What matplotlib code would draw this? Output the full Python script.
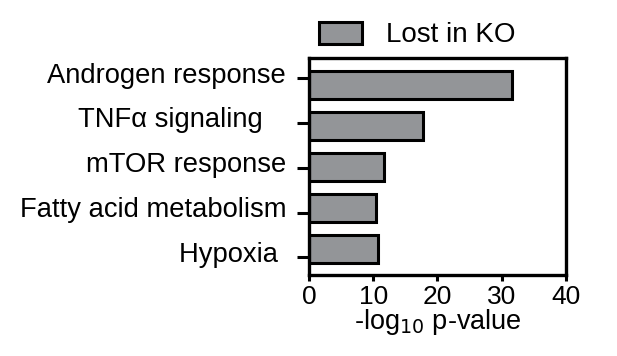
import matplotlib
matplotlib.use('Agg')
import matplotlib.pyplot as plt
import matplotlib.transforms as mtransforms
import numpy as np

# pathway enrichment, genes lost in KO
pathways = ['Androgen response', 'TNFα signaling   ', 'mTOR response',
            'Fatty acid metabolism', 'Hypoxia ']
neg_log_p = [31.6, 17.8, 11.6, 10.5, 10.7]
x_ticks = [0, 10, 20, 30, 40]
series_name = 'Lost in KO'

plt.rcParams['font.family'] = ['Liberation Sans', 'DejaVu Sans']
plt.rcParams['mathtext.fontset'] = 'dejavusans'

fig = plt.figure(figsize=(6.17, 3.56), dpi=100)
ax = fig.add_axes([0.5008, 0.2275, 0.4165, 0.6095])

ypos = np.arange(len(pathways))[::-1]
ax.barh(ypos, neg_log_p, height=0.68, color='#939598', edgecolor='black',
        linewidth=2.2, label=series_name)

ax.set_xlim(0, 40)
ax.set_ylim(-0.63, 4.66)
ax.set_xticks(x_ticks)
# prism spreads the category ticks a bit wider than the bars
ax.set_yticks(np.linspace(ypos[0] + 0.17, ypos[-1] - 0.2, len(pathways)))
ax.set_yticklabels(pathways)
ax.tick_params(axis='x', labelsize=19, width=2.2, length=4, pad=3)
ax.tick_params(axis='y', labelsize=19.7, width=2.2, length=8.5, pad=8)
# labels sit slightly above their ticks
shift = mtransforms.ScaledTranslation(0, 4 / 72, fig.dpi_scale_trans)
for lab in ax.get_yticklabels():
    lab.set_transform(lab.get_transform() + shift)
for sp in ax.spines.values():
    sp.set_linewidth(2.4)

ax.set_xlabel('-log$_{10}$ p-value', fontsize=19.5, labelpad=-1.5)

ax.legend(loc='center left', bbox_to_anchor=(0.517, 0.902), bbox_transform=fig.transFigure,
          frameon=False, fontsize=20, handlelength=1.55, handleheight=0.85,
          handletextpad=0.85, borderpad=0, borderaxespad=0)

fig.savefig('out.png', dpi=100)
